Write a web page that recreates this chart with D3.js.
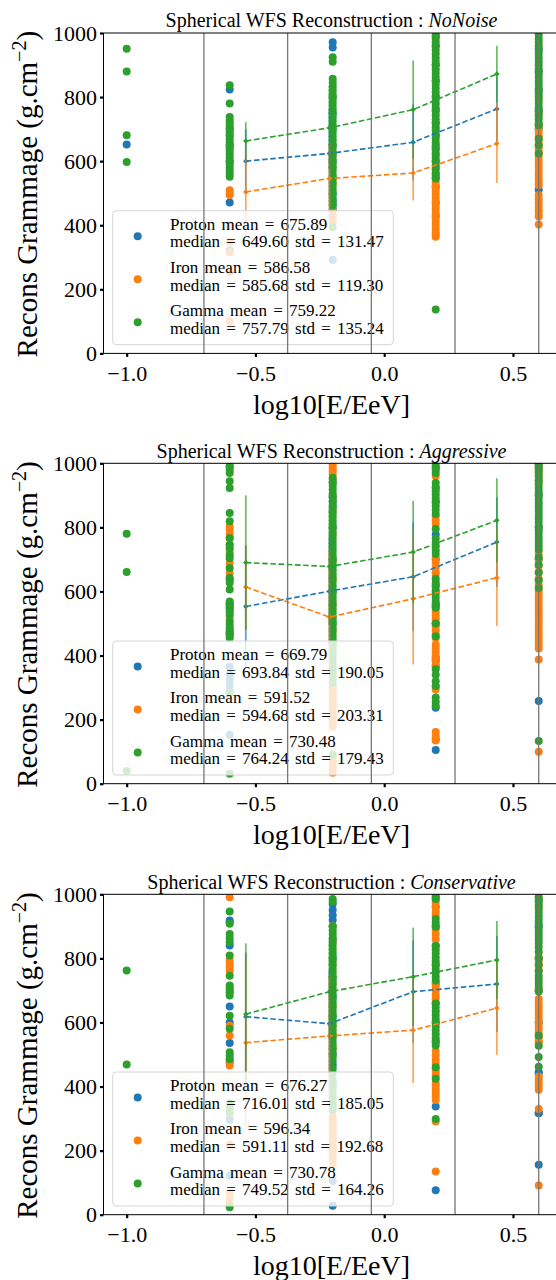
<!DOCTYPE html>
<html><head><meta charset="utf-8">
<script src="https://cdnjs.cloudflare.com/ajax/libs/d3/7.8.5/d3.min.js"></script>
<style>
body{margin:0;background:#fff;}
svg{display:block;}
text{font-family:"Liberation Serif","Times New Roman",serif;fill:#000;}
</style>
</head><body>
<svg id="chart" width="556" height="1280"></svg>
<script>
// ---------- shared axes / categories ----------
const xPositions = [-1.0, -0.6, -0.2, 0.2, 0.6];
const binCenters = [-0.5375, -0.2125, 0.1125, 0.4375];
const binEdges = [-0.7, -0.375, -0.05, 0.275, 0.6];
const xTicks = [-1.0, -0.5, 0.0, 0.5];
const yTicks = [0, 200, 400, 600, 800, 1000];
const speciesNames = ["Proton", "Iron", "Gamma"];
const speciesColors = ["#1f77b4", "#ff7f0e", "#2ca02c"];
const panelNames = ["NoNoise", "Aggressive", "Conservative"];

// ---------- NoNoise: scatter values per x position ----------
const noNoiseProton = [
  [652],
  [824, 700, 650, 600, 471, 322],
  [971, 955, 800, 750, 700, 650, 600, 550, 500, 477, 465, 451, 292],
  [990, 960, 900, 850, 800, 760, 720, 680, 640, 600, 560, 520, 470, 430],
  [950, 880, 820, 760, 700, 511]
];
const noNoiseIron = [
  [],
  [680, 640, 509, 501, 494, 400, 348, 315, 255, 100],
  [620, 580, 546, 530, 446, 430, 420, 409],
  [700, 650, 620, 580, 546, 534, 522, 510, 498, 486, 474, 462, 450, 438, 426, 414, 402, 390, 378, 370, 364],
  [800, 750, 712, 700, 688, 676, 664, 652, 640, 628, 616, 604, 592, 580, 568, 556, 544, 532, 525, 494, 482, 470, 458, 446, 435, 427, 402]
];
const noNoiseGamma = [
  [951, 880, 681, 597],
  [837, 780, 738, 728, 718, 708, 698, 690, 680, 670, 660, 650, 640, 630, 620, 610, 600, 590, 580, 570, 560, 551],
  [924, 910, 857, 845, 833, 821, 809, 797, 785, 773, 761, 749, 737, 725, 713, 701, 689, 677, 665, 653, 641, 629, 617, 605, 593, 581, 569, 557, 545, 533, 521, 509, 497, 485, 473, 462, 394],
  [995, 983, 971, 959, 947, 935, 923, 911, 899, 887, 875, 863, 851, 839, 827, 815, 803, 791, 779, 767, 755, 743, 731, 719, 707, 695, 683, 671, 659, 647, 635, 623, 611, 599, 587, 575, 563, 551, 546, 137],
  [995, 983, 971, 959, 947, 935, 923, 911, 899, 887, 875, 863, 851, 839, 827, 815, 803, 791, 779, 767, 755, 743, 731, 719, 712, 670, 650, 624]
];
const noNoiseMeans = [[600, 624, 659, 763], [504, 546, 563, 655], [663, 704, 761, 872]];
const noNoiseStds = [[100, 140, 120, 100], [127, 110, 86, 123], [59, 130, 153, 88]];
const noNoiseStats = [[675.89, 649.60, 131.47], [586.58, 585.68, 119.30], [759.22, 757.79, 135.24]];

// ---------- Aggressive ----------
const aggressiveProton = [
  [],
  [990, 637, 559, 548, 538, 470, 365, 340, 325, 309, 289, 153],
  [940, 895, 880, 864, 800, 700, 600, 500, 440, 350, 300],
  [985, 923, 880, 778, 700, 620, 560, 500, 393, 383, 366, 237, 138, 105],
  [995, 985, 900, 800, 700, 258]
];
const aggressiveIron = [
  [],
  [803, 793, 780, 767, 746, 725, 689, 658, 565, 520, 481, 470, 460],
  [995, 985, 975, 965, 950, 900, 850, 780, 700, 640, 560, 520, 480, 300, 290, 280, 270, 260, 250, 240, 230, 220, 210, 200, 190, 178, 84, 70, 55, 45, 34],
  [995, 960, 835, 822, 809, 705, 690, 675, 660, 653, 600, 549, 537, 525, 513, 501, 490, 478, 466, 455, 434, 422, 410, 398, 386, 371, 304, 294, 161, 148, 135],
  [990, 975, 960, 945, 720, 700, 680, 660, 640, 620, 601, 589, 577, 565, 553, 541, 529, 517, 505, 493, 481, 469, 457, 445, 434, 422, 388, 100]
];
const aggressiveGamma = [
  [780, 661, 40],
  [991, 980, 970, 944, 923, 845, 819, 767, 746, 735, 714, 704, 673, 643, 627, 606, 569, 559, 548, 528, 508, 497, 486, 475, 465, 455, 284, 31],
  [955, 942, 930, 918, 906, 894, 882, 870, 858, 846, 834, 822, 810, 798, 786, 774, 762, 750, 738, 726, 714, 702, 690, 678, 666, 654, 642, 630, 618, 606, 594, 582, 570, 558, 546, 534, 522, 510, 498, 486, 474, 462, 450, 438, 429, 418, 405, 390, 375, 360, 345, 330, 315, 90],
  [990, 980, 970, 939, 926, 913, 902, 890, 878, 866, 854, 842, 795, 765, 753, 741, 729, 717, 640, 628, 616, 604, 592, 580, 568, 556, 549, 500, 460, 357, 340, 320, 305, 269, 256, 243],
  [995, 983, 971, 959, 947, 935, 923, 911, 899, 887, 875, 863, 851, 839, 827, 815, 803, 791, 779, 767, 755, 743, 731, 707, 683, 659, 635, 611, 133]
];
const aggressiveMeans = [[553, 601, 646, 754], [614, 520, 577, 643], [690, 678, 723, 822]];
const aggressiveStds = [[191, 170, 170, 140], [130, 210, 205, 151], [210, 180, 160, 131]];
const aggressiveStats = [[669.79, 693.84, 190.05], [591.52, 594.68, 203.31], [730.48, 764.24, 179.43]];

// ---------- Conservative ----------
const conservativeProton = [
  [],
  [918, 913, 840, 694, 650, 600, 536, 476, 296, 122],
  [970, 951, 935, 920, 900, 860, 800, 740, 680, 620, 560, 500, 468, 405, 234, 105, 28],
  [990, 960, 900, 840, 780, 720, 660, 600, 540, 338, 76],
  [980, 900, 800, 700, 600, 445, 441, 318, 317, 156]
];
const conservativeIron = [
  [],
  [991, 794, 783, 772, 762, 590, 559, 483, 466, 218, 67, 50, 36],
  [900, 850, 780, 720, 650, 590, 560, 520, 306, 295, 284, 273, 262, 251, 240, 229, 218, 207, 196, 185, 174, 160],
  [985, 975, 960, 945, 933, 890, 875, 860, 725, 712, 700, 686, 673, 511, 497, 483, 470, 455, 445, 434, 410, 400, 390, 380, 370, 358, 291, 135],
  [990, 960, 805, 790, 776, 764, 700, 673, 661, 650, 638, 626, 614, 602, 590, 578, 566, 554, 542, 538, 431, 421, 410, 400, 390, 330, 91]
];
const conservativeGamma = [
  [762, 469],
  [946, 908, 876, 863, 850, 809, 746, 715, 707, 699, 684, 621, 580, 507, 497, 486, 348, 333, 317, 23],
  [985, 977, 900, 888, 876, 864, 852, 840, 828, 816, 804, 792, 780, 768, 756, 744, 732, 720, 708, 696, 684, 672, 660, 648, 636, 624, 612, 600, 588, 576, 564, 552, 540, 528, 516, 504, 492, 480, 456, 442, 421, 410, 399, 388, 377, 366, 355, 344, 333, 327],
  [995, 985, 923, 911, 899, 839, 827, 815, 803, 791, 779, 767, 755, 743, 731, 659, 647, 635, 623, 611, 599, 587, 575, 563, 551, 539, 528, 460, 424, 299],
  [991, 979, 967, 955, 943, 931, 919, 907, 895, 883, 871, 859, 847, 835, 820, 800, 780, 760, 745, 733, 721, 709, 697, 559, 527, 492, 462]
];
const conservativeMeans = [[618, 596, 696, 720], [537, 558, 576, 645], [626, 696, 743, 795]];
const conservativeStds = [[200, 170, 160, 150], [267, 190, 165, 146], [221, 150, 153, 122]];
const conservativeStats = [[676.27, 716.01, 185.05], [596.34, 591.11, 192.68], [730.78, 749.52, 164.26]];

// ---------- assemble panels ----------
const panels = [
  {name: panelNames[0], scatter: [noNoiseProton, noNoiseIron, noNoiseGamma], means: noNoiseMeans, stds: noNoiseStds, stats: noNoiseStats},
  {name: panelNames[1], scatter: [aggressiveProton, aggressiveIron, aggressiveGamma], means: aggressiveMeans, stds: aggressiveStds, stats: aggressiveStats},
  {name: panelNames[2], scatter: [conservativeProton, conservativeIron, conservativeGamma], means: conservativeMeans, stds: conservativeStds, stats: conservativeStats}
];

const svg = d3.select("#chart");
const plotLeft = 103.5, plotRight = 561.9, plotH = 320.4;
const panelTops = [33, 463.3, 894.3];
const dotR = 4.0;
const x = d3.scaleLinear().domain([-1.09, 0.69]).range([plotLeft, plotRight]);

panels.forEach((p, pi) => {
  const top = panelTops[pi], bottom = top + plotH;
  const y = d3.scaleLinear().domain([0, 1000]).range([bottom, top]);
  const g = svg.append("g");
  const clipId = "clip" + pi;
  g.append("clipPath").attr("id", clipId).append("rect")
    .attr("x", plotLeft).attr("y", top).attr("width", plotRight - plotLeft).attr("height", plotH);
  const inner = g.append("g").attr("clip-path", `url(#${clipId})`);

  // scatter
  p.scatter.forEach((cols, si) => {
    const pts = [];
    cols.forEach((vals, xi) => vals.forEach(v => pts.push([xPositions[xi], v])));
    inner.append("g").selectAll("circle").data(pts).join("circle")
      .attr("cx", d => x(d[0])).attr("cy", d => y(d[1])).attr("r", dotR)
      .attr("fill", speciesColors[si]);
  });

  // means with error bars
  p.means.forEach((ms, si) => {
    const col = speciesColors[si];
    const eb = inner.append("g").attr("opacity", 0.7);
    ms.forEach((m, bi) => {
      eb.append("line").attr("x1", x(binCenters[bi])).attr("x2", x(binCenters[bi]))
        .attr("y1", y(m - p.stds[si][bi])).attr("y2", y(m + p.stds[si][bi]))
        .attr("stroke", col).attr("stroke-width", 1.7);
    });
    const line = d3.line().x((d, i) => x(binCenters[i])).y(d => y(d));
    inner.append("path").attr("d", line(ms)).attr("fill", "none")
      .attr("stroke", col).attr("stroke-width", 1.6).attr("stroke-dasharray", "5.6,2.6");
    inner.append("g").selectAll("path").data(ms).join("path")
      .attr("d", d3.symbol(d3.symbolSquare, 15))
      .attr("transform", (d, i) => `translate(${x(binCenters[i])},${y(d)}) rotate(45)`)
      .attr("fill", col);
  });

  // legend
  const lx = 112.7, ly = top + 177.7;
  const lg = g.append("g");
  lg.append("rect").attr("x", lx).attr("y", ly).attr("width", 280.6).attr("height", 134)
    .attr("rx", 3.5).attr("fill", "#fff").attr("fill-opacity", 0.8)
    .attr("stroke", "#d6d6d6").attr("stroke-width", 1);
  p.stats.forEach((st, si) => {
    const base = ly + 19 + si * 43.3;
    lg.append("circle").attr("cx", 137.7).attr("cy", ly + 25.6 + si * 43.0).attr("r", dotR)
      .attr("fill", speciesColors[si]);
    lg.append("text").attr("x", 170).attr("y", base).attr("font-size", 17).attr("word-spacing", 2)
      .text(`${speciesNames[si]} mean = ${st[0].toFixed(2)}`);
    lg.append("text").attr("x", 170).attr("y", base + 17.5).attr("font-size", 17).attr("word-spacing", 2)
      .text(`median = ${st[1].toFixed(2)} std = ${st[2].toFixed(2)}`);
  });

  // vertical bin edge lines (on top)
  g.append("g").selectAll("line").data(binEdges).join("line")
    .attr("x1", d => x(d)).attr("x2", d => x(d)).attr("y1", top).attr("y2", bottom)
    .attr("stroke", "#777").attr("stroke-width", 1.3);

  // spines
  g.append("path").attr("d", `M${plotRight},${top}H${plotLeft}V${bottom}H${plotRight}`)
    .attr("fill", "none").attr("stroke", "#000").attr("stroke-width", 1);

  // axes
  const ya = g.append("g").attr("transform", `translate(${plotLeft},0)`)
    .call(d3.axisLeft(y).tickValues(yTicks).tickFormat(d3.format("d")).tickSize(3.5).tickPadding(3));
  const xa = g.append("g").attr("transform", `translate(0,${bottom})`)
    .call(d3.axisBottom(x).tickValues(xTicks).tickFormat(d3.format(".1f")).tickSize(3.5).tickPadding(8));
  [ya, xa].forEach(a => {
    a.select(".domain").remove();
    a.selectAll(".tick line").attr("stroke", "#000").attr("stroke-width", 2.2);
    a.selectAll(".tick text").attr("font-size", 22).attr("font-family", '"Liberation Serif", serif').attr("fill", "#000");
  });

  // title
  const t = g.append("text").attr("x", 331.5).attr("y", top - 5.7).attr("text-anchor", "middle")
    .attr("font-size", 20);
  t.append("tspan").text("Spherical WFS Reconstruction : ");
  t.append("tspan").attr("font-style", "italic").text(p.name);

  // x label
  g.append("text").attr("x", 331.5).attr("y", bottom + 60.3).attr("text-anchor", "middle")
    .attr("font-size", 28).text("log10[E/EeV]");

  // y label
  const yl = g.append("text").attr("transform", `translate(37,${(top + bottom) / 2 + 1}) rotate(-90)`)
    .attr("text-anchor", "middle").attr("font-size", 29);
  yl.append("tspan").text("Recons Grammage (g.cm");
  yl.append("tspan").attr("font-size", 20).attr("dy", -11).text("\u22122");
  yl.append("tspan").attr("dy", 11).text(")");
});
</script>
</body></html>
